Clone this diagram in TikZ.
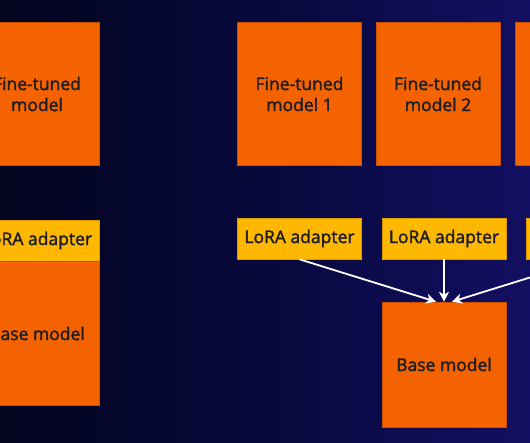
\documentclass[tikz,border=0pt]{standalone}
\usepackage{fontspec}
\setmainfont{Open Sans}[UprightFeatures={FakeBold=2}]
\usetikzlibrary{arrows.meta}
\definecolor{bgL}{HTML}{03041F}
\definecolor{bgM}{HTML}{07093C}
\definecolor{bgR}{HTML}{130F62}
\definecolor{orng}{HTML}{F46300}
\definecolor{orngedge}{HTML}{C85000}
\definecolor{ylw}{HTML}{FFB700}
\definecolor{ylwedge}{HTML}{D89A00}
\definecolor{ink}{HTML}{1E1E24}
\tikzset{
  modelbox/.style={rectangle, fill=orng, draw=orngedge, line width=0.6pt, inner sep=0pt,
    minimum width=124pt, minimum height=143pt, align=center, text=ink,
    font=\fontsize{17.5}{21}\selectfont},
  basebox/.style={modelbox, minimum height=125pt},
  basetall/.style={modelbox, minimum height=144.5pt},
  lorabox/.style={rectangle, fill=ylw, draw=ylwedge, line width=0.6pt, inner sep=0pt,
    minimum width=124pt, minimum height=41pt, text=ink,
    font=\fontsize{17.5}{21}\selectfont},
  conn/.style={draw=white, line width=1.8pt, -{Stealth[length=10pt,width=10pt,inset=3pt]}}
}
\begin{document}
\begin{tikzpicture}[x=1pt,y=-1pt]
\useasboundingbox (0,0) rectangle (530,442);
\begin{scope}
\clip (0,0) rectangle (530,442);
\shade[left color=bgL, right color=bgR, middle color=bgM] (0,0) rectangle (530,442);
% left column
\node[modelbox] (ftL) at (37,94) {Fine-tuned\\model};
\node[lorabox] (loraL) at (37,240.5) {LoRA adapter};
\node[basetall] (baseL) at (37,333.5) {Base model};
% right group
\node[modelbox] (ft1) at (299.5,94) {Fine-tuned\\model 1};
\node[modelbox] (ft2) at (438,94) {Fine-tuned\\model 2};
\node[modelbox] (ft3) at (577,94) {Fine-tuned\\model 3};
\node[lorabox] (lora1) at (299.5,238.5) {LoRA adapter};
\node[lorabox] (lora2) at (444,238.5) {LoRA adapter};
\node[lorabox] (lora3) at (588.5,238.5) {LoRA adapter};
\node[basebox] (base) at (444,364.5) {Base model};
\draw[conn] (lora1.south) -- ([xshift=-8pt]base.north);
\draw[conn] (lora2.south) -- (base.north);
\draw[conn] (lora3.south) -- ([xshift=8pt]base.north);
\end{scope}
\end{tikzpicture}
\end{document}
